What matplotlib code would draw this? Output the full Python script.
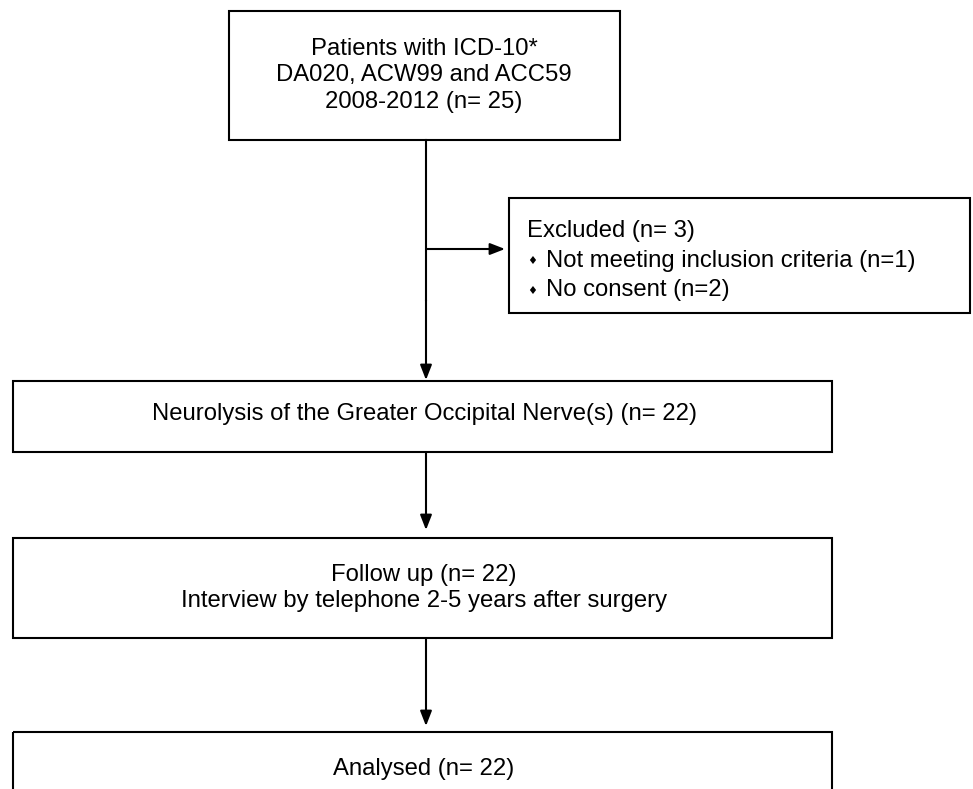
import matplotlib.pyplot as plt
from matplotlib.patches import Rectangle

plt.rcParams['font.family'] = ['Liberation Sans', 'DejaVu Sans']

# box texts
top_lines = ["Patients with ICD-10*", "DA020, ACW99 and ACC59", "2008-2012 (n= 25)"]
excl_title = "Excluded (n= 3)"
excl_items = ["Not meeting inclusion criteria (n=1)", "No consent (n=2)"]
neuro_text = "Neurolysis of the Greater Occipital Nerve(s) (n= 22)"
follow_lines = ["Follow up (n= 22)", "Interview by telephone 2-5 years after surgery"]
analysed_text = "Analysed (n= 22)"

FS = 17.2
LW = 1.5
DY = 2.5  # small baseline nudge

fig = plt.figure(figsize=(9.73, 7.89), dpi=100)
ax = fig.add_axes([0, 0, 1, 1])
ax.set_xlim(0, 973)
ax.set_ylim(789, 0)
ax.axis('off')


def box(x0, y0, x1, y1):
    ax.add_patch(Rectangle((x0, y0), x1 - x0, y1 - y0, fill=False,
                           edgecolor='black', linewidth=LW))


def arrow(x0, y0, x1, y1):
    ax.annotate("", xy=(x1, y1), xytext=(x0, y0),
                arrowprops=dict(arrowstyle="-|>,head_length=0.9,head_width=0.35",
                                color='black', lw=LW, shrinkA=0, shrinkB=0))


# top box
box(229, 11, 620, 140)
for i, t in enumerate(top_lines):
    ax.text(424, 46 + DY + i * 26.5, t, ha='center', va='center', fontsize=FS)

# main vertical line + branch
ax.plot([426, 426], [140, 300], color='black', lw=LW)
arrow(426, 300, 426, 380)
arrow(426, 249, 505, 249)

# excluded box
box(509, 198, 970, 313)
ax.text(527, 228 + DY, excl_title, ha='left', va='center', fontsize=FS)
for i, t in enumerate(excl_items):
    yy = 258 + DY + i * 29
    ax.text(532, yy + 1, "\u2666", ha='center', va='center', fontsize=8,
            family=['DejaVu Sans'])
    ax.text(546, yy, t, ha='left', va='center', fontsize=FS)

# neurolysis box
box(13, 381, 832, 452)
ax.text(424, 411 + DY, neuro_text, ha='center', va='center', fontsize=FS)
arrow(426, 452, 426, 530)

# follow up box
box(13, 538, 832, 638)
for i, t in enumerate(follow_lines):
    ax.text(424, 573 + DY + i * 25, t, ha='center', va='center', fontsize=FS)
arrow(426, 638, 426, 726)

# analysed box (runs off bottom)
box(13, 732, 832, 820)
ax.text(424, 767 + DY, analysed_text, ha='center', va='center', fontsize=FS)

fig.savefig("out.png", dpi=100)
